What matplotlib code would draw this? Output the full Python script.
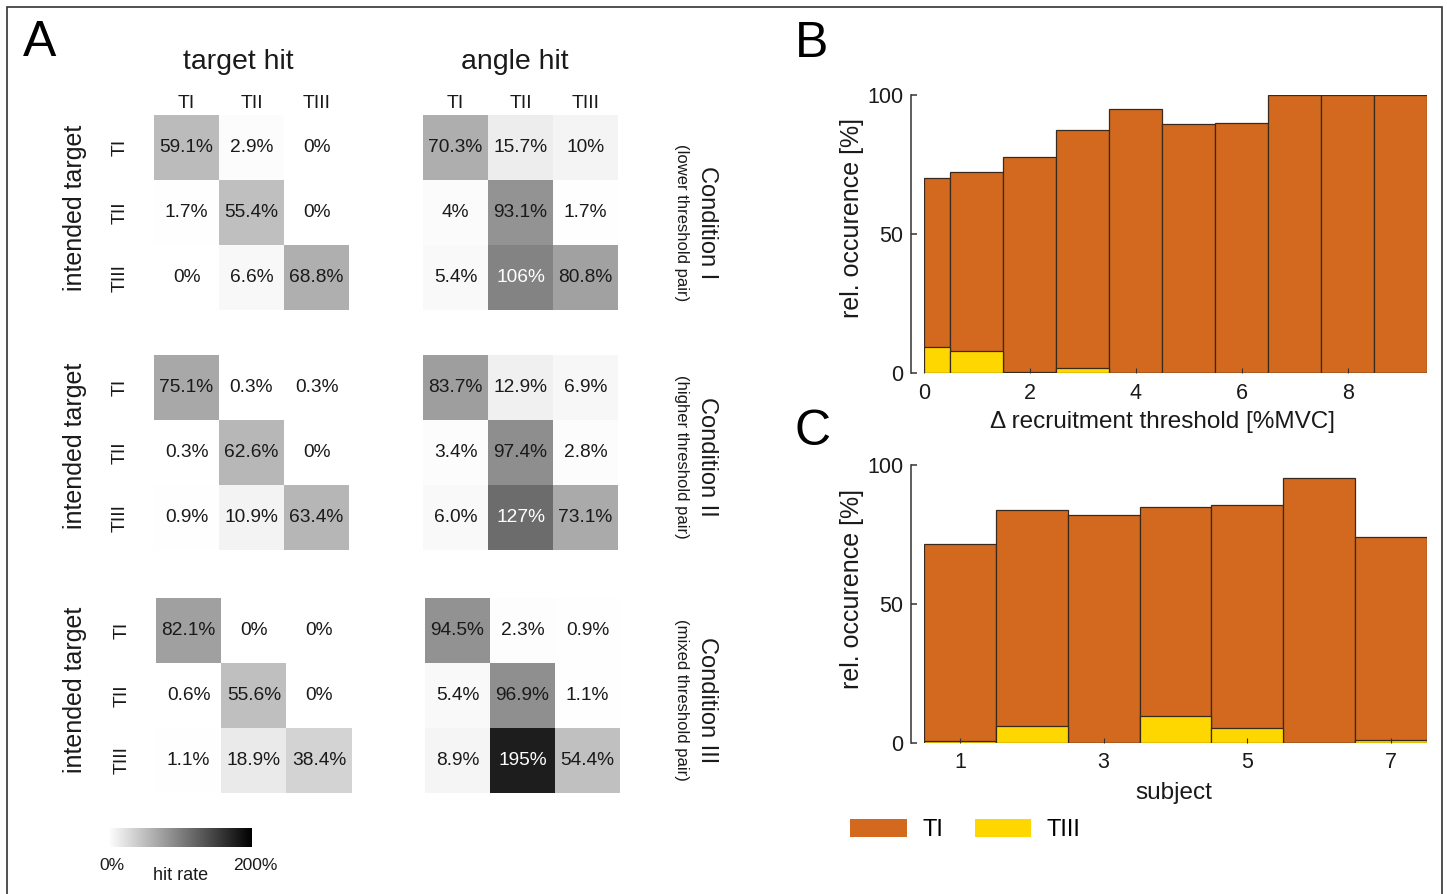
import numpy as np
import matplotlib
matplotlib.use("Agg")
import matplotlib.pyplot as plt
from matplotlib.patches import Rectangle, Patch
from matplotlib.colors import Normalize
from matplotlib.cm import ScalarMappable

plt.rcParams['font.family'] = ['Liberation Sans', 'DejaVu Sans']

# ---------------- data ----------------
target_names = ["TI", "TII", "TIII"]

cond1_target = [[59.1, 2.9, 0.0], [1.7, 55.4, 0.0], [0.0, 6.6, 68.8]]
cond1_target_lbl = [["59.1%", "2.9%", "0%"], ["1.7%", "55.4%", "0%"], ["0%", "6.6%", "68.8%"]]
cond1_angle = [[70.3, 15.7, 10.0], [4.0, 93.1, 1.7], [5.4, 106.0, 80.8]]
cond1_angle_lbl = [["70.3%", "15.7%", "10%"], ["4%", "93.1%", "1.7%"], ["5.4%", "106%", "80.8%"]]

cond2_target = [[75.1, 0.3, 0.3], [0.3, 62.6, 0.0], [0.9, 10.9, 63.4]]
cond2_target_lbl = [["75.1%", "0.3%", "0.3%"], ["0.3%", "62.6%", "0%"], ["0.9%", "10.9%", "63.4%"]]
cond2_angle = [[83.7, 12.9, 6.9], [3.4, 97.4, 2.8], [6.0, 127.0, 73.1]]
cond2_angle_lbl = [["83.7%", "12.9%", "6.9%"], ["3.4%", "97.4%", "2.8%"], ["6.0%", "127%", "73.1%"]]

cond3_target = [[82.1, 0.0, 0.0], [0.6, 55.6, 0.0], [1.1, 18.9, 38.4]]
cond3_target_lbl = [["82.1%", "0%", "0%"], ["0.6%", "55.6%", "0%"], ["1.1%", "18.9%", "38.4%"]]
cond3_angle = [[94.5, 2.3, 0.9], [5.4, 96.9, 1.1], [8.9, 195.0, 54.4]]
cond3_angle_lbl = [["94.5%", "2.3%", "0.9%"], ["5.4%", "96.9%", "1.1%"], ["8.9%", "195%", "54.4%"]]

condition_titles = ["Condition I", "Condition II", "Condition III"]
condition_subtitles = ["(lower threshold pair)", "(higher threshold pair)", "(mixed threshold pair)"]

# Panel B: histogram over recruitment threshold difference
thr_bin_edges = [0, 0.5, 1.5, 2.5, 3.5, 4.5, 5.5, 6.5, 7.5, 8.5, 9.5]
thr_TI = [70.0, 72.2, 77.8, 87.5, 95.1, 89.6, 89.8, 100.0, 100.0, 100.0]
thr_TIII = [9.4, 7.8, 0.5, 1.9, 0.0, 0.0, 0.0, 0.0, 0.0, 0.0]

# Panel C: per subject
subjects = [1, 2, 3, 4, 5, 6, 7]
subj_TI = [71.5, 83.9, 81.9, 84.8, 85.6, 95.2, 74.0]
subj_TIII = [0.6, 6.1, 0.0, 9.7, 5.2, 0.0, 1.1]

# ---------------- style ----------------
ORANGE = "#D2691F"
YELLOW = "#FFD700"
EDGE = "#3a2a1e"
TXT = "#1a1a1a"

W, H = 1447, 894
fig = plt.figure(figsize=(W / 100, H / 100), dpi=100)


def fx(px):
    return px / W


def fy(py):
    return 1 - py / H


def rect(x0, y0, x1, y1):
    return [fx(x0), 1 - y1 / H, (x1 - x0) / W, (y1 - y0) / H]


# border frame
fig.add_artist(Rectangle((fx(7), -0.05), fx(1442) - fx(7), fy(7) + 0.05,
                         transform=fig.transFigure, fill=False,
                         edgecolor="#333333", lw=1.2))

# ---------------- panel A ----------------
heat_rows = [
    (cond1_target, cond1_target_lbl, cond1_angle, cond1_angle_lbl, (154, 115, 349, 310), (423, 115, 618, 310)),
    (cond2_target, cond2_target_lbl, cond2_angle, cond2_angle_lbl, (154, 355, 349, 550), (423, 355, 618, 550)),
    (cond3_target, cond3_target_lbl, cond3_angle, cond3_angle_lbl, (156, 598, 352, 793), (425, 598, 620, 793)),
]
intended_y = [208, 446, 690]
cond_y = [223, 457, 700]

for r, (tv, tl, av, al, tbox, abox) in enumerate(heat_rows):
    for k, (vals, lbls, box) in enumerate([(tv, tl, tbox), (av, al, abox)]):
        ax = fig.add_axes(rect(*box))
        arr = np.array(vals)
        ax.imshow(arr, cmap="gray_r", vmin=0, vmax=220, aspect="auto",
                  interpolation="nearest")
        for i in range(3):
            for j in range(3):
                ax.text(j, i, lbls[i][j], ha="center", va="center", fontsize=13.8,
                        color="white" if arr[i, j] > 100 else TXT)
        for s in ax.spines.values():
            s.set_visible(False)
        if r == 0:
            ax.xaxis.tick_top()
            ax.set_xticks(range(3), target_names, fontsize=14, color=TXT)
            ax.tick_params(axis="x", length=0, pad=2)
        else:
            ax.set_xticks([])
        if k == 0:
            ax.set_yticks(range(3), target_names, fontsize=14, rotation=90,
                          va="center", color=TXT)
            ax.tick_params(axis="y", length=0, pad=18)
        else:
            ax.set_yticks([])
    fig.text(fx(75), fy(intended_y[r]), "intended target", rotation=90,
             ha="center", va="center", fontsize=18, color=TXT)
    fig.text(fx(707), fy(cond_y[r]), condition_titles[r], rotation=-90,
             ha="center", va="center", fontsize=17, color=TXT)
    fig.text(fx(682), fy(cond_y[r]), condition_subtitles[r], rotation=-90,
             ha="center", va="center", fontsize=12, color=TXT)

fig.text(fx(238), fy(62), "target hit", ha="center", va="center", fontsize=20.5, color=TXT)
fig.text(fx(515), fy(62), "angle hit", ha="center", va="center", fontsize=20.5, color=TXT)

# colorbar
cax = fig.add_axes(rect(108, 828, 252, 847))
cb = fig.colorbar(ScalarMappable(Normalize(0, 200), "gray_r"), cax=cax,
                  orientation="horizontal")
cb.outline.set_visible(False)
cax.set_xticks([])
fig.text(fx(112), fy(865), "0%", ha="center", va="center", fontsize=12.5, color=TXT)
fig.text(fx(255), fy(865), "200%", ha="center", va="center", fontsize=12.5, color=TXT)
fig.text(fx(181), fy(876), "hit rate", ha="center", va="center", fontsize=13, color=TXT)

# panel letters
fig.text(fx(40), fy(43), "A", ha="center", va="center", fontsize=36)
fig.text(fx(812), fy(44), "B", ha="center", va="center", fontsize=36)
fig.text(fx(813), fy(432), "C", ha="center", va="center", fontsize=36)


# ---------------- panels B and C ----------------
def style_bar_axes(ax):
    for s in ("top", "right", "bottom"):
        ax.spines[s].set_visible(False)
    ax.spines["left"].set_position(("outward", 9.5))
    ax.spines["left"].set_bounds(0, 100)
    ax.spines["left"].set_linewidth(1.1)
    ax.spines["left"].set_color("#333333")
    ax.set_ylim(0, 100)
    ax.set_yticks([0, 50, 100])
    ax.tick_params(axis="y", direction="in", length=4, width=1.1, pad=5.5,
                   labelsize=15.5, colors="#333333", labelcolor=TXT)
    ax.tick_params(axis="x", direction="in", length=3.5, width=0.8, pad=7,
                   labelsize=15.5, colors="#333333", labelcolor=TXT)
    ax.set_ylabel("rel. occurence [%]", fontsize=18, color=TXT)
    ax.yaxis.label.set_va("center")
    ax.yaxis.label.set_ha("center")


# B
axB = fig.add_axes(rect(924, 95, 1427, 373))
edges = np.array(thr_bin_edges, dtype=float)
widths = np.diff(edges)
axB.bar(edges[:-1], thr_TI, width=widths, align="edge", color=ORANGE,
        edgecolor=EDGE, linewidth=0.9)
axB.bar(edges[:-1], thr_TIII, width=widths, align="edge", color=YELLOW,
        edgecolor=EDGE, linewidth=0.9)
axB.set_xlim(edges[0], edges[-1])
axB.set_xticks([0, 2, 4, 6, 8])
style_bar_axes(axB)
axB.set_xlabel("\u0394 recruitment threshold [%MVC]", fontsize=17.5, color=TXT)
axB.xaxis.label.set_va("center")
axB.xaxis.set_label_coords((1163 - 924) / 503, (373 - 422) / 278)
axB.yaxis.set_label_coords((852 - 924) / 503, (373 - 218) / 278)

# C
axC = fig.add_axes(rect(924, 465, 1427, 742.7))
axC.bar(subjects, subj_TI, width=1.0, color=ORANGE, edgecolor=EDGE, linewidth=0.9)
axC.bar(subjects, subj_TIII, width=1.0, color=YELLOW, edgecolor=EDGE, linewidth=0.9)
axC.set_xlim(subjects[0] - 0.5, subjects[-1] + 0.5)
axC.set_xticks([1, 3, 5, 7])
style_bar_axes(axC)
axC.set_xlabel("subject", fontsize=17.5, color=TXT)
axC.xaxis.label.set_va("center")
axC.xaxis.set_label_coords((1174 - 924) / 503, (742.7 - 793) / 277.7)
axC.yaxis.set_label_coords((852 - 924) / 503, (742.7 - 589) / 277.7)

# legend
handles = [Patch(facecolor=ORANGE, edgecolor="none"), Patch(facecolor=YELLOW, edgecolor="none")]
fig.legend(handles, ["TI", "TIII"], ncol=2, frameon=False, fontsize=17,
           handlelength=2.4, handleheight=0.8, handletextpad=0.65,
           columnspacing=1.35, borderpad=0, borderaxespad=0,
           loc="center left", bbox_to_anchor=(fx(850), fy(830)))

fig.savefig("out.png", dpi=100)
